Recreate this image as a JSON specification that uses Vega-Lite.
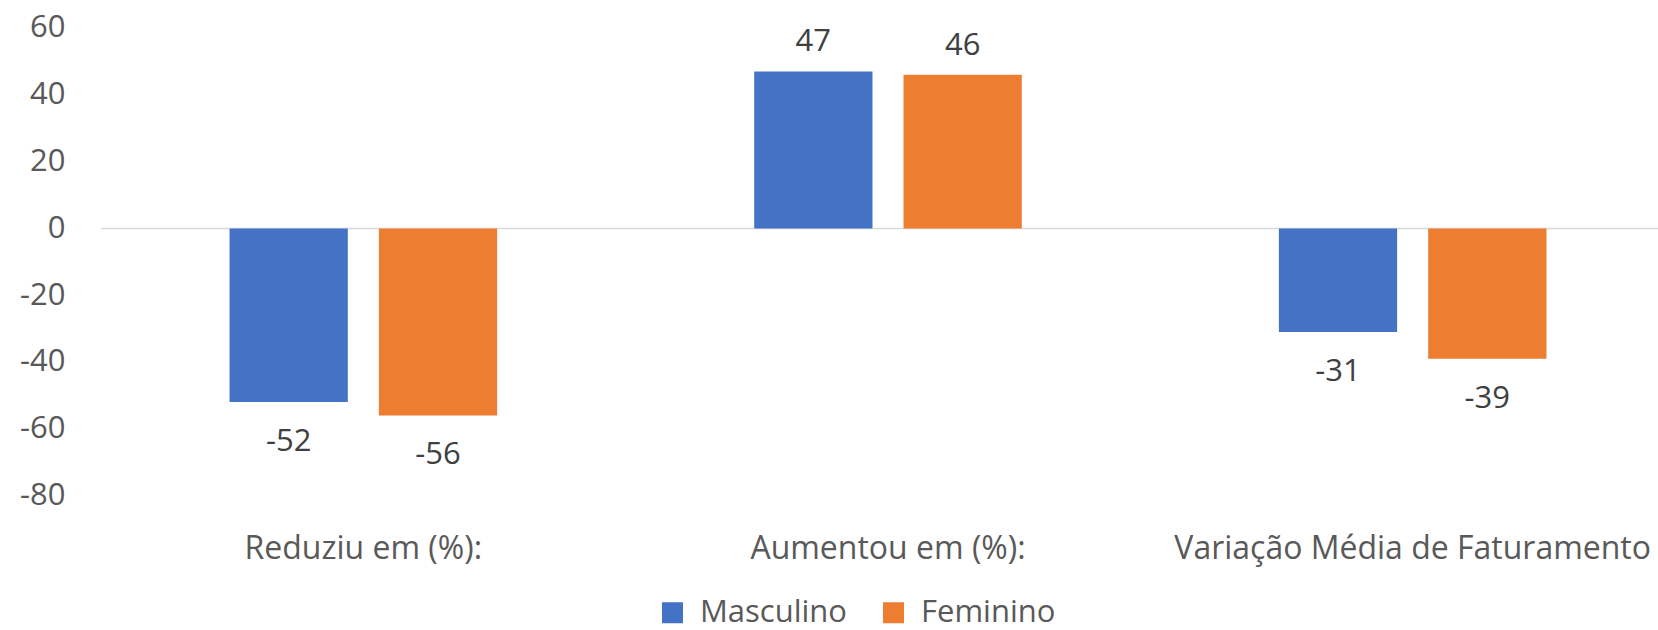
{
  "$schema": "https://vega.github.io/schema/vega-lite/v6.json",
  "autosize": {"type": "none"},
  "padding": {"left": 101, "top": 28, "right": 0, "bottom": 135},
  "width": 1574,
  "height": 467.6,
  "background": "white",
  "config": {
    "view": {"stroke": null},
    "font": "Open Sans"
  },
  "data": {
    "values": [
      {"categoria": "Reduziu em (%):", "sexo": "Masculino", "v": -52},
      {"categoria": "Reduziu em (%):", "sexo": "Feminino", "v": -56},
      {"categoria": "Aumentou em (%):", "sexo": "Masculino", "v": 47},
      {"categoria": "Aumentou em (%):", "sexo": "Feminino", "v": 46},
      {"categoria": "Variação Média de Faturamento", "sexo": "Masculino", "v": -31},
      {"categoria": "Variação Média de Faturamento", "sexo": "Feminino", "v": -39}
    ]
  },
  "encoding": {
    "x": {
      "field": "categoria", "type": "nominal", "sort": null,
      "scale": {"paddingInner": 0.49, "paddingOuter": 0.245},
      "axis": {"title": null, "labelAngle": 0, "domain": false, "ticks": false, "labelPadding": 38, "labelBaseline": "top", "labelLimit": 0, "labelFontSize": 32, "labelColor": "#595959", "labelFont": "Open Sans"}
    },
    "xOffset": {"field": "sexo", "type": "nominal", "sort": ["Masculino", "Feminino"], "scale": {"paddingInner": 0.208, "paddingOuter": 0}}
  },
  "layer": [
    {
      "data": {"values": [{"zero": 0}]},
      "mark": {"type": "rule", "color": "#d9d9d9", "strokeWidth": 1.5},
      "encoding": {"y": {"field": "zero", "type": "quantitative"}, "x": null, "xOffset": null}
    },
    {
      "mark": {"type": "bar"},
      "encoding": {
        "y": {
          "field": "v", "type": "quantitative",
          "scale": {"domain": [-80, 60], "nice": false, "zero": false},
          "axis": {"title": null, "grid": false, "domain": false, "ticks": false, "values": [-80, -60, -40, -20, 0, 20, 40, 60], "labelExpr": "'' + datum.value", "labelPadding": 36, "labelFontSize": 31, "labelColor": "#595959", "labelFont": "Open Sans"}
        },
        "color": {
          "field": "sexo", "type": "nominal", "sort": ["Masculino", "Feminino"],
          "scale": {"domain": ["Masculino", "Feminino"], "range": ["#4472C4", "#ED7D31"]},
          "legend": {"title": null, "orient": "none", "direction": "horizontal", "legendX": 556, "legendY": 569, "symbolType": "square", "symbolSize": 441, "symbolStrokeWidth": 0, "labelFontSize": 31, "labelColor": "#595959", "labelOffset": 12, "columnPadding": 30, "labelFont": "Open Sans"}
        }
      }
    },
    {
      "transform": [{"filter": "datum.v >= 0"}],
      "mark": {"type": "text", "baseline": "alphabetic", "dy": -20, "fontSize": 31, "color": "#404040", "font": "Open Sans"},
      "encoding": {
        "y": {"field": "v", "type": "quantitative"},
        "text": {"field": "v", "type": "nominal"}
      }
    },
    {
      "transform": [{"filter": "datum.v < 0"}],
      "mark": {"type": "text", "baseline": "alphabetic", "dy": 49, "fontSize": 31, "color": "#404040", "font": "Open Sans"},
      "encoding": {
        "y": {"field": "v", "type": "quantitative"},
        "text": {"field": "v", "type": "nominal"}
      }
    }
  ]
}
